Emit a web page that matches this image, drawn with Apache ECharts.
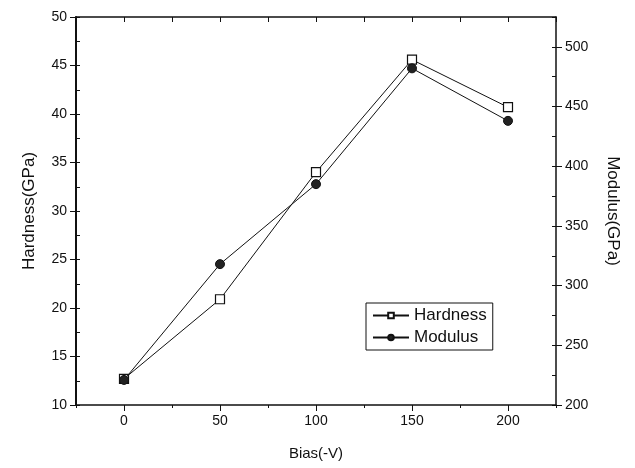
<!DOCTYPE html>
<html>
<head>
<meta charset="utf-8">
<script src="https://cdn.jsdelivr.net/npm/echarts@6/dist/echarts.min.js"></script>
<style>
  html, body { margin: 0; padding: 0; background: #fff; }
  #chart { width: 635px; height: 468px; }
</style>
</head>
<body>
<div id="chart"></div>
<script>
var bias = [0, 50, 100, 150, 200];
var hardness = [12.7, 20.9, 34.0, 45.6, 40.7];
var modulus = [221, 318, 385, 482, 438];
var xLabels = [0, 50, 100, 150, 200];
var modLabels = [200, 250, 300, 350, 400, 450, 500];

var chart = echarts.init(document.getElementById('chart'));
var font = 'Liberation Sans, Arial, sans-serif';
var ink = '#111';

function pairs(ys) {
    return bias.map(function (x, i) { return [x, ys[i]]; });
}

var option = {
    animation: false,
    backgroundColor: '#fff',
    textStyle: { fontFamily: font, color: ink },
    grid: { left: 76, right: 79, top: 17, bottom: 63, show: false },
    legend: {
        orient: 'vertical',
        left: 366, top: 303,
        padding: [4, 6, 4, 6],
        itemGap: 5,
        itemWidth: 36, itemHeight: 7,
        borderColor: ink, borderWidth: 1,
        textStyle: { fontFamily: font, fontSize: 17, color: ink },
        data: ['Hardness', 'Modulus']
    },
    xAxis: [
        {
            type: 'value', min: -25, max: 225, position: 'bottom',
            name: 'Bias(-V)', nameLocation: 'middle', nameGap: 41,
            nameTextStyle: { fontSize: 15, color: ink, fontFamily: font },
            axisLine: { onZero: false, lineStyle: { color: ink, width: 1.5 } },
            axisTick: { show: true, inside: false, length: 6, customValues: xLabels, lineStyle: { color: ink } },
            axisLabel: { customValues: xLabels, fontSize: 14, color: ink, margin: 9, fontFamily: font },
            splitLine: { show: false }
        },
        {
            type: 'value', min: -25, max: 225, interval: 25, position: 'bottom',
            axisLine: { show: false, onZero: false },
            axisTick: { show: true, length: 3, lineStyle: { color: ink } },
            axisLabel: { show: false },
            splitLine: { show: false }
        },
        {
            type: 'value', min: -25, max: 225, interval: 25, position: 'top',
            axisLine: { show: true, onZero: false, lineStyle: { color: ink, width: 1.5 } },
            axisTick: { show: true, inside: true, length: 5, lineStyle: { color: ink } },
            axisLabel: { show: false },
            splitLine: { show: false }
        }
    ],
    yAxis: [
        {
            type: 'value', min: 10, max: 50, interval: 5, position: 'left',
            name: 'Hardness(GPa)', nameLocation: 'middle', nameGap: 38, nameRotate: 90,
            nameTextStyle: { fontSize: 17, color: ink, fontFamily: font },
            axisLine: { show: true, onZero: false, lineStyle: { color: ink, width: 2 } },
            axisTick: { show: true, length: 6, lineStyle: { color: ink } },
            axisLabel: { fontSize: 14, color: ink, margin: 9, fontFamily: font },
            splitLine: { show: false }
        },
        {
            type: 'value', min: 200, max: 525, position: 'right',
            name: 'Modulus(GPa)', nameLocation: 'middle', nameGap: 48, nameRotate: -90,
            nameTextStyle: { fontSize: 17, color: ink, fontFamily: font },
            axisLine: { show: true, onZero: false, lineStyle: { color: ink, width: 1.5 } },
            axisTick: { show: true, length: 6, customValues: modLabels, lineStyle: { color: ink } },
            axisLabel: { customValues: modLabels, fontSize: 14, color: ink, margin: 9, fontFamily: font },
            splitLine: { show: false }
        },
        {
            type: 'value', min: 10, max: 50, interval: 2.5, position: 'left',
            axisLine: { show: false, onZero: false },
            axisTick: { show: true, inside: true, length: 4, lineStyle: { color: ink } },
            axisLabel: { show: false },
            splitLine: { show: false }
        },
        {
            type: 'value', min: 200, max: 525, interval: 25, position: 'right',
            axisLine: { show: false, onZero: false },
            axisTick: { show: true, inside: true, length: 4, lineStyle: { color: ink } },
            axisLabel: { show: false },
            splitLine: { show: false }
        }
    ],
    series: [
        {
            name: 'Hardness', type: 'line', xAxisIndex: 0, yAxisIndex: 0,
            data: pairs(hardness),
            symbol: 'rect', symbolSize: 9,
            lineStyle: { color: ink, width: 1 },
            itemStyle: { color: '#fff', borderColor: ink, borderWidth: 1.2 },
            z: 3
        },
        {
            name: 'Modulus', type: 'line', xAxisIndex: 0, yAxisIndex: 1,
            data: pairs(modulus),
            symbol: 'circle', symbolSize: 9,
            lineStyle: { color: ink, width: 1 },
            itemStyle: { color: '#222', borderColor: ink, borderWidth: 1 },
            z: 4
        }
    ]
};

chart.setOption(option);
</script>
</body>
</html>
